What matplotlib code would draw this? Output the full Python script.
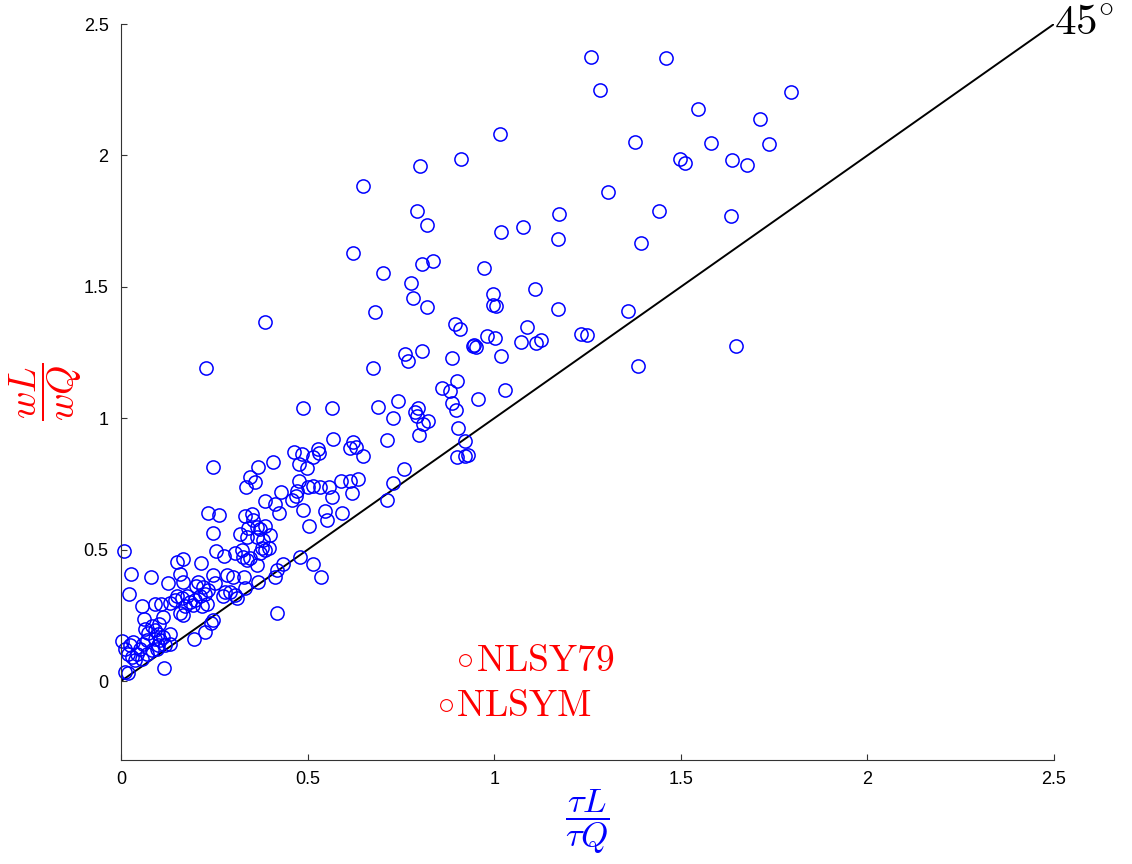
#!/usr/bin/env python3
# scatter of wage ratio vs task ratio, with a 45 degree reference line
import matplotlib
matplotlib.use("Agg")
import matplotlib.pyplot as plt

# tau_L / tau_Q for each occupation
tauRatio = [
  1.259, 1.459, 1.283, 1.794, 1.545, 1.711, 1.016, 1.377, 1.581, 1.735,
  0.910, 1.499, 1.511, 1.636, 1.678, 0.801, 0.649, 1.306, 0.794, 1.442,
  1.174, 1.634, 0.819, 1.019, 1.077, 1.170, 1.392, 0.622, 0.703, 0.806,
  0.837, 0.973, 0.778, 0.782, 0.821, 0.998, 0.998, 1.004, 1.108, 1.172,
  1.359, 0.681, 0.894, 0.907, 1.089, 0.980, 1.002, 1.072, 1.111, 1.125,
  1.232, 1.248, 0.947, 0.951, 0.944, 0.761, 0.768, 0.806, 0.886, 1.018,
  0.674, 0.900, 0.859, 0.882, 1.029, 1.647, 1.385, 0.957, 0.386, 0.228,
  0.487, 0.565, 0.688, 0.741, 0.888, 0.898, 0.797, 0.788, 0.792, 0.822,
  0.810, 0.730, 0.904, 0.799, 0.712, 0.922, 0.901, 0.922, 0.931, 0.569,
  0.622, 0.614, 0.630, 0.648, 0.464, 0.484, 0.527, 0.531, 0.515, 0.477,
  0.498, 0.759, 0.730, 0.712, 0.428, 0.477, 0.500, 0.515, 0.472, 0.468,
  0.458, 0.532, 0.556, 0.566, 0.590, 0.614, 0.635, 0.618, 0.488, 0.423,
  0.546, 0.553, 0.591, 0.504, 0.408, 0.247, 0.368, 0.346, 0.359, 0.334,
  0.386, 0.413, 0.234, 0.263, 0.246, 0.332, 0.350, 0.355, 0.341, 0.364,
  0.386, 0.372, 0.399, 0.319, 0.337, 0.364, 0.381, 0.386, 0.377, 0.372,
  0.397, 0.254, 0.277, 0.305, 0.323, 0.328, 0.337, 0.346, 0.364, 0.283,
  0.301, 0.330, 0.247, 0.214, 0.417, 0.413, 0.433, 0.480, 0.515, 0.536,
  0.008, 0.026, 0.080, 0.022, 0.150, 0.165, 0.158, 0.127, 0.167, 0.207,
  0.201, 0.220, 0.234, 0.225, 0.279, 0.292, 0.305, 0.274, 0.310, 0.332,
  0.368, 0.252, 0.057, 0.092, 0.106, 0.113, 0.062, 0.103, 0.116, 0.012,
  0.018, 0.195, 0.224, 0.240, 0.247, 0.417, 0.002, 0.131, 0.145, 0.149,
  0.163, 0.176, 0.185, 0.198, 0.212, 0.230, 0.216, 0.194, 0.171, 0.158,
  0.167,
  0.011, 0.024, 0.033, 0.020, 0.029, 0.042, 0.051, 0.060, 0.069, 0.073,
  0.064, 0.082, 0.091, 0.100, 0.091, 0.104, 0.113, 0.100, 0.118, 0.131,
  0.131, 0.082, 0.069, 0.055, 0.038, 0.096,
]

# w_L / w_Q for the same occupations
wageRatio = [
  2.376, 2.370, 2.249, 2.242, 2.177, 2.137, 2.080, 2.051, 2.048, 2.044,
  1.986, 1.988, 1.970, 1.982, 1.963, 1.961, 1.885, 1.861, 1.787, 1.788,
  1.777, 1.769, 1.736, 1.710, 1.729, 1.681, 1.668, 1.627, 1.554, 1.587,
  1.599, 1.573, 1.516, 1.456, 1.424, 1.473, 1.431, 1.427, 1.490, 1.417,
  1.407, 1.404, 1.360, 1.340, 1.348, 1.313, 1.304, 1.289, 1.285, 1.298,
  1.320, 1.315, 1.279, 1.270, 1.275, 1.244, 1.219, 1.256, 1.228, 1.238,
  1.190, 1.143, 1.114, 1.104, 1.107, 1.276, 1.199, 1.073, 1.366, 1.191,
  1.038, 1.041, 1.044, 1.065, 1.059, 1.031, 1.041, 1.022, 1.008, 0.989,
  0.977, 1.000, 0.964, 0.936, 0.917, 0.913, 0.851, 0.856, 0.859, 0.920,
  0.911, 0.888, 0.892, 0.856, 0.873, 0.866, 0.885, 0.869, 0.852, 0.825,
  0.812, 0.806, 0.755, 0.689, 0.720, 0.763, 0.740, 0.742, 0.722, 0.706,
  0.690, 0.739, 0.737, 0.699, 0.762, 0.760, 0.770, 0.716, 0.651, 0.640,
  0.646, 0.612, 0.639, 0.592, 0.834, 0.815, 0.815, 0.777, 0.758, 0.737,
  0.686, 0.674, 0.638, 0.632, 0.562, 0.628, 0.635, 0.613, 0.581, 0.587,
  0.590, 0.577, 0.556, 0.559, 0.549, 0.549, 0.537, 0.498, 0.505, 0.486,
  0.505, 0.495, 0.476, 0.486, 0.498, 0.473, 0.460, 0.467, 0.440, 0.403,
  0.397, 0.397, 0.402, 0.448, 0.422, 0.397, 0.445, 0.473, 0.445, 0.397,
  0.495, 0.406, 0.397, 0.331, 0.452, 0.465, 0.406, 0.375, 0.378, 0.378,
  0.362, 0.357, 0.346, 0.330, 0.340, 0.340, 0.327, 0.323, 0.315, 0.353,
  0.376, 0.372, 0.286, 0.295, 0.295, 0.245, 0.236, 0.219, 0.049, 0.035,
  0.030, 0.162, 0.188, 0.221, 0.232, 0.261, 0.153, 0.296, 0.308, 0.323,
  0.315, 0.323, 0.302, 0.308, 0.323, 0.293, 0.285, 0.289, 0.285, 0.258,
  0.251,
  0.124, 0.137, 0.150, 0.105, 0.092, 0.105, 0.124, 0.143, 0.158, 0.184,
  0.197, 0.209, 0.194, 0.181, 0.162, 0.156, 0.169, 0.137, 0.137, 0.181,
  0.143, 0.118, 0.105, 0.086, 0.080, 0.124,
]

# the two surveys marked in red
surveyNames = ['NLSY79', 'NLSYM']
surveyTau = [0.922, 0.871]
surveyWage = [0.080, -0.091]

tickVals = [0, 0.5, 1, 1.5, 2, 2.5]
tickLabels = ['0', '0.5', '1', '1.5', '2', '2.5']


def main():
  plt.rcParams['mathtext.fontset'] = 'cm'
  plt.rcParams['font.family'] = ['Liberation Sans', 'DejaVu Sans']

  fig = plt.figure(figsize=(11.32, 8.64), dpi=100)
  ax = fig.add_axes([0.1069, 0.1204, 0.8242, 0.8518])

  # 45 degree line
  ax.plot([0, 2.5], [0, 2.5], color='black', lw=1.4, zorder=1)
  ax.text(2.5, 2.5, r'$45^{\circ}$', fontsize=31, ha='left', va='center', clip_on=False)

  # occupations
  ax.plot(tauRatio, wageRatio, 'o', mfc='none', mec='blue', ms=9.5, mew=1.1, zorder=2, clip_on=False)

  # surveys
  ax.plot(surveyTau, surveyWage, 'o', mfc='none', mec='red', ms=8.5, mew=0.8, zorder=2)
  for name, sx, sy in zip(surveyNames, surveyTau, surveyWage):
    ax.annotate(r'$\mathrm{' + name + '}$', (sx, sy), xytext=(7.5, -1), textcoords='offset points',
                ha='left', va='center', color='red', fontsize=27)

  ax.set_xlim(0, 2.5)
  ax.set_ylim(-0.3, 2.5)
  ax.set_xticks(tickVals)
  ax.set_xticklabels(tickLabels)
  ax.set_yticks(tickVals)
  ax.set_yticklabels(tickLabels)
  ax.tick_params(direction='in', length=4, width=0.8, labelsize=13, colors='#333333', labelcolor='black')
  ax.tick_params(axis='x', pad=8)
  ax.tick_params(axis='y', pad=9)
  for side in ['top', 'right']:
    ax.spines[side].set_visible(False)
  for side in ['left', 'bottom']:
    ax.spines[side].set_color('#333333')
    ax.spines[side].set_linewidth(0.8)

  ax.set_xlabel(r'$\dfrac{\tau L}{\tau Q}$', color='blue', fontsize=25, labelpad=-1)
  ax.set_ylabel(r'$\dfrac{wL}{wQ}$', color='red', fontsize=27, labelpad=0)

  fig.savefig('out.png', dpi=100)


if __name__ == "__main__":
  main()
